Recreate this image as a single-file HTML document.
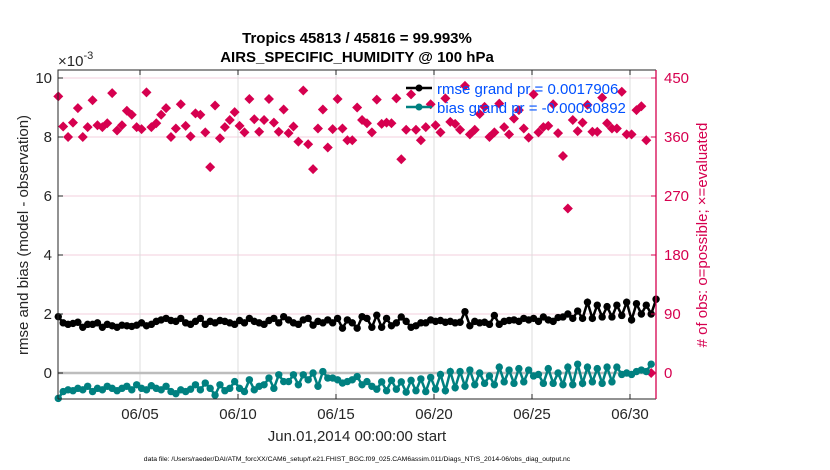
<!DOCTYPE html>
<html><head><meta charset="utf-8"><style>
body{margin:0;background:#fff;}
svg{display:block;font-family:"Liberation Sans",sans-serif;}
</style></head><body>
<svg id="chart" width="830" height="470" viewBox="0 0 830 470" xmlns="http://www.w3.org/2000/svg">
<rect width="830" height="470" fill="#fff"/>
<text x="357" y="43" text-anchor="middle" font-size="15" font-weight="bold">Tropics 45813 / 45816 = 99.993%</text>
<text x="357" y="62" text-anchor="middle" font-size="15" font-weight="bold">AIRS_SPECIFIC_HUMIDITY @ 100 hPa</text>
<text x="58" y="66" font-size="15" fill="#262626">×10<tspan dy="-7" font-size="11">-3</tspan></text>
<g id="grid"></g>
<g id="marks"></g>
<g id="axes"></g>
<text transform="translate(28,235) rotate(-90)" text-anchor="middle" font-size="15" fill="#262626">rmse and bias (model - observation)</text>
<text transform="translate(707,235) rotate(-90)" text-anchor="middle" font-size="15" fill="#d6004f"># of obs: o=possible; ×=evaluated</text>
<text x="357" y="441" text-anchor="middle" font-size="15" fill="#262626">Jun.01,2014 00:00:00 start</text>
<text x="357" y="461" text-anchor="middle" font-size="6.8" fill="#000">data file: /Users/raeder/DAI/ATM_forcXX/CAM6_setup/f.e21.FHIST_BGC.f09_025.CAM6assim.011/Diags_NTrS_2014-06/obs_diag_output.nc</text>
<g id="legend">
<line x1="406" y1="88" x2="432" y2="88" stroke="#000" stroke-width="2.5"/>
<circle cx="419" cy="88" r="3.5" fill="#000"/>
<text x="437" y="94" font-size="15" fill="#0050ff">rmse grand pr = 0.0017906</text>
<line x1="406" y1="107" x2="432" y2="107" stroke="#008080" stroke-width="2.5"/>
<circle cx="419" cy="107" r="3.5" fill="#008080"/>
<text x="437" y="113" font-size="15" fill="#0050ff">bias grand pr = -0.00030892</text>
</g>
</svg>
<script>
const rmse = [1.91,1.70,1.65,1.68,1.72,1.55,1.65,1.65,1.70,1.55,1.65,1.60,1.55,1.62,1.60,1.58,1.62,1.70,1.60,1.65,1.75,
1.80,1.85,1.78,1.75,1.85,1.70,1.65,1.75,1.85,1.65,1.75,1.70,1.78,1.75,1.70,1.65,1.78,1.70,1.85,1.75,
1.70,1.65,1.78,1.85,1.70,1.91,1.80,1.70,1.65,1.80,1.85,1.62,1.75,1.70,1.80,1.70,1.85,1.52,1.80,1.70,
1.52,1.91,1.85,1.55,1.96,1.55,1.85,1.60,1.70,1.90,1.75,1.55,1.60,1.70,1.70,1.80,1.75,1.78,1.72,1.75,
1.70,1.72,2.08,1.60,1.75,1.70,1.72,1.65,1.95,1.65,1.75,1.78,1.80,1.75,1.85,1.80,1.85,1.75,1.90,1.80,
1.75,1.88,1.90,2.00,1.85,2.10,1.85,2.40,1.85,2.30,1.90,2.25,1.90,2.30,1.95,2.40,1.80,2.35,2.00,2.30,2.00,2.50];
const bias = [-0.86,-0.63,-0.57,-0.60,-0.52,-0.57,-0.45,-0.63,-0.52,-0.57,-0.45,-0.52,-0.60,-0.52,-0.45,-0.57,-0.40,-0.52,-0.57,-0.43,-0.52,
-0.57,-0.45,-0.63,-0.70,-0.57,-0.63,-0.55,-0.40,-0.57,-0.34,-0.52,-0.75,-0.40,-0.60,-0.52,-0.29,-0.52,-0.63,-0.23,-0.57,
-0.45,-0.40,-0.17,-0.52,-0.06,-0.29,-0.29,-0.06,-0.40,-0.06,-0.23,0.0,-0.45,0.05,-0.17,-0.17,-0.23,-0.34,-0.29,-0.23,
-0.12,-0.40,-0.29,-0.45,-0.55,-0.30,-0.60,-0.25,-0.55,-0.30,-0.65,-0.25,-0.60,-0.20,-0.63,-0.15,-0.55,-0.05,-0.60,0.05,
-0.50,0.05,-0.45,0.10,-0.40,0.00,-0.35,-0.10,-0.40,0.20,-0.30,0.10,-0.35,0.15,-0.30,0.10,-0.10,-0.05,-0.35,0.15,
-0.35,0.00,-0.40,0.20,-0.40,0.30,-0.35,0.20,-0.30,0.15,-0.35,0.20,-0.30,0.20,-0.05,0.00,-0.05,0.05,0.10,0.05,0.30];
const nobs = [422,376,360,382,404,360,375,416,378,375,381,427,370,378,400,394,375,372,428,375,381,394,404,360,373,410,377,361,396,394,367,314,408,358,375,386,398,377,367,418,387,368,386,418,382,368,402,366,376,353,431,349,311,373,402,344,372,418,373,355,
355,405,386,381,367,417,380,382,381,419,326,371,425,371,355,375,410,378,367,419,383,380,371,438,364,371,395,406,360,367,411,375,364,388,401,373,359,425,367,375,377,410,366,331,251,386,369,382,409,368,368,420,381,373,373,429,364,364,401,407,355,0];
const startDay = -0.17;   // days relative to Jun 01 00:00
const stepDay = 0.25;
const xTickDays = [4,9,14,19,24,29];
const xTickLabels = ["06/05","06/10","06/15","06/20","06/25","06/30"];
const yTicks = [0,2,4,6,8,10];
const yRTicks = [0,90,180,270,360,450];

const L=58,R=656,T=70,B=399;
const xScale = d => 61.6 + d*19.6;
const yScale = v => 373 - v*29.5;
const yRScale = c => 373 - c/45*29.5;
const NS="http://www.w3.org/2000/svg";
function mk(tag, attrs, parent){const e=document.createElementNS(NS,tag);for(const k in attrs)e.setAttribute(k,attrs[k]);parent.appendChild(e);return e;}
const grid=document.getElementById('grid'), marks=document.getElementById('marks'), axes=document.getElementById('axes');

yTicks.forEach(v=>{const g=mk('line',{x1:L,x2:R,y1:yScale(v),y2:yScale(v),stroke:'#f3cfdc','stroke-width':1},grid);

});
xTickDays.forEach(d=>{const g=mk('line',{x1:xScale(d),x2:xScale(d),y1:T,y2:B,stroke:'#dcdcdc','stroke-width':1},grid);

});
const zl=mk('line',{x1:L,x2:R,y1:yScale(0),y2:yScale(0),stroke:'#bdbdbd','stroke-width':2.5},grid);



const tAt = i => startDay + i*stepDay;
nobs.forEach((c,i)=>{const x=xScale(tAt(i)),y=yRScale(c);
const p=mk('path',{d:`M${x} ${y-5}L${x+5} ${y}L${x} ${y+5}L${x-5} ${y}Z`,fill:'#d6004f'},marks);

});
function series(vals,color,name){
  const pts=vals.map((v,i)=>xScale(tAt(i)).toFixed(1)+','+yScale(v).toFixed(1)).join(' ');
  const pl=mk('polyline',{points:pts,fill:'none',stroke:color,'stroke-width':2.5},marks);
  
  
  vals.forEach((v,i)=>{const c=mk('circle',{cx:xScale(tAt(i)),cy:yScale(v),r:3.7,fill:color},marks);
  
  });
}
series(bias,'#008080','bias');
series(rmse,'#000','rmse');

const f1=mk('path',{d:`M${L} ${B}L${L} ${T}L${R} ${T}M${L} ${B}L${R} ${B}`,fill:'none',stroke:'#262626','stroke-width':1},axes);


const f2=mk('line',{x1:R,x2:R,y1:T,y2:B,stroke:'#d6004f','stroke-width':1.3},axes);


yTicks.forEach(v=>{const y=yScale(v);
mk('line',{x1:L,x2:L+5,y1:y,y2:y,stroke:'#262626'},axes);
const t=mk('text',{x:L-6,y:y+5,'text-anchor':'end','font-size':15,fill:'#262626'},axes);t.textContent=v;

});
yRTicks.forEach(c=>{const y=yRScale(c);
mk('line',{x1:R-5,x2:R,y1:y,y2:y,stroke:'#d6004f'},axes);
const t=mk('text',{x:R+8,y:y+5,'font-size':15,fill:'#d6004f'},axes);t.textContent=c;

});
xTickDays.forEach((d,i)=>{const x=xScale(d);
mk('line',{x1:x,x2:x,y1:B,y2:B-5,stroke:'#262626'},axes);
mk('line',{x1:x,x2:x,y1:T,y2:T+5,stroke:'#262626'},axes);
const t=mk('text',{x:x,y:419,'text-anchor':'middle','font-size':15,fill:'#262626'},axes);t.textContent=xTickLabels[i];

});
</script>
</body></html>
